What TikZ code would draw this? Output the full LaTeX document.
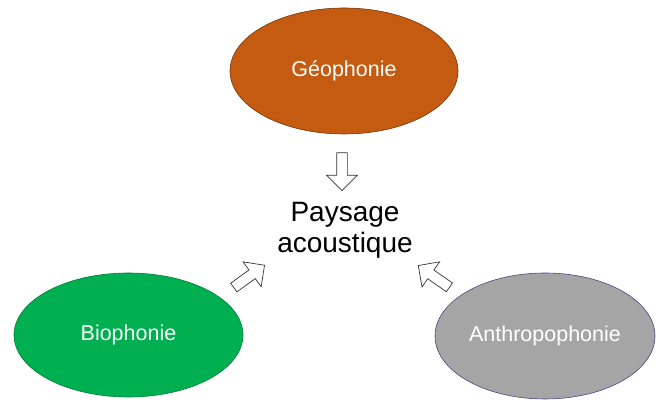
\documentclass[tikz,border=0pt]{standalone}
\usepackage{fontspec}
\setmainfont{Liberation Sans}
\usetikzlibrary{shapes.geometric, shapes.arrows}

\definecolor{geoorange}{HTML}{C55A11}
\definecolor{biogreen}{HTML}{00B050}
\definecolor{anthrogray}{HTML}{A5A5A5}

\begin{document}
\begin{tikzpicture}[
    x=1pt, y=1pt,
    source/.style={ellipse, draw, line width=0.6pt, inner sep=0pt, text=white, font=\fontsize{21.5}{26}\selectfont},
    blockarrow/.style={single arrow, draw=black!80, fill=white, line width=0.7pt, inner sep=5pt, minimum width=30pt, minimum height=38pt, single arrow head extend=10pt},
    title/.style={align=center, font=\fontsize{28}{31}\selectfont}
]
\useasboundingbox (0,0) rectangle (656,403);
% Centre
\node[title] (paysage) at (345,173) {Paysage\\acoustique};
% Sources
\node[source, fill=geoorange, draw=geoorange!60!black, minimum width=228pt, minimum height=126pt] (geo) at (344,332) {G\'eophonie};
\node[source, fill=biogreen, draw=biogreen!70!black, minimum width=229pt, minimum height=124pt] (bio) at (128.5,68) {Biophonie};
\node[source, fill=anthrogray, draw=blue!30!gray!80!black, minimum width=220pt, minimum height=126pt] (anthro) at (545,67) {Anthropophonie};
% Arrows
\node[blockarrow, rotate=-90] (geoarrow) at (342,234) {};
\node[blockarrow, rotate=36] (bioarrow) at (247,125) {};
\node[blockarrow, rotate=145] (anthroarrow) at (436,125) {};
\end{tikzpicture}
\end{document}
